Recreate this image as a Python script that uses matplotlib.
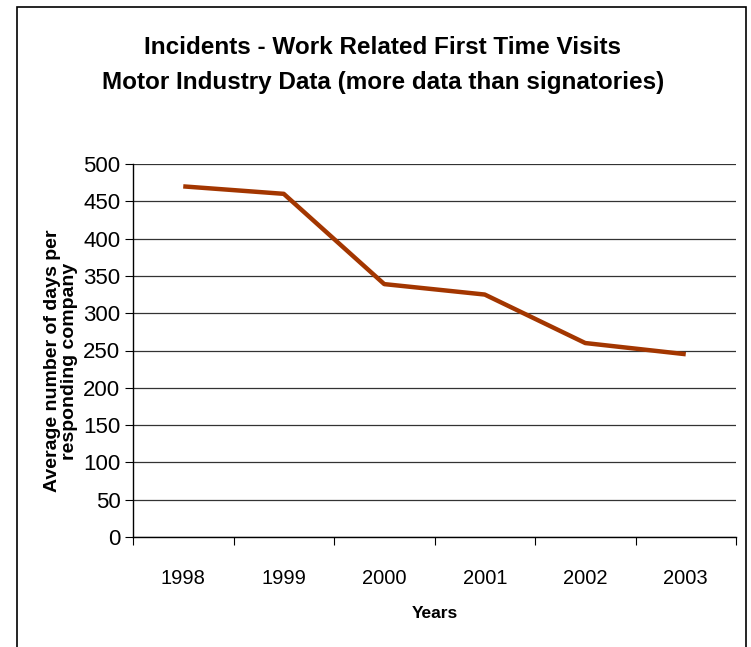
import numpy as np
import matplotlib.pyplot as plt
from matplotlib.patches import Rectangle

years = ["1998", "1999", "2000", "2001", "2002", "2003"]
avg_days = [470, 460, 339, 325, 260, 245]

title = "Incidents - Work Related First Time Visits\nMotor Industry Data (more data than signatories)"
ylabel = "Average number of days per\nresponding company"
xlabel = "Years"

plt.rcParams['font.family'] = ['Liberation Sans', 'DejaVu Sans']

fig = plt.figure(figsize=(7.51, 6.47), dpi=100)
ax = fig.add_axes([133 / 751, 1 - 537 / 647, (736 - 133) / 751, (537 - 164) / 647])

# outer chart border
fig.patches.append(Rectangle((17 / 751, -0.01), (746 - 17) / 751, 1 - 7 / 647 + 0.01,
                             transform=fig.transFigure, fill=False,
                             edgecolor='black', linewidth=1.2))

x = np.arange(len(years)) + 0.5
ax.plot(x, avg_days, color='#A33600', linewidth=3.2, solid_capstyle='butt')

ax.set_xlim(0, len(years))
ax.set_ylim(0, 500)
ax.set_yticks(np.arange(0, 501, 50))
ax.yaxis.grid(True, color='#333333', linewidth=0.9)
ax.set_axisbelow(True)

ax.set_xticks(np.arange(len(years) + 1))
ax.set_xticklabels([])
ax.set_xticks(x, minor=True)
ax.set_xticklabels(years, minor=True)
ax.tick_params(axis='x', which='major', length=6, direction='out', color='black')
ax.tick_params(axis='x', which='minor', length=0, pad=23, labelsize=14.5)
ax.tick_params(axis='y', length=6, direction='out', labelsize=16, pad=3)

for s in ['top', 'right']:
    ax.spines[s].set_visible(False)
for s in ['left', 'bottom']:
    ax.spines[s].set_linewidth(1.0)

ax.set_xlabel(xlabel, fontsize=12.5, fontweight='bold', labelpad=13)
ax.set_ylabel(ylabel, fontsize=14, fontweight='bold', linespacing=1.03)
ax.yaxis.set_label_coords(-0.091, 0.472)

fig.text(383 / 751, 1 - 65 / 647, title, ha='center', va='center', fontsize=17.5,
         fontweight='bold', linespacing=1.65)

fig.savefig('out.png', dpi=100)
